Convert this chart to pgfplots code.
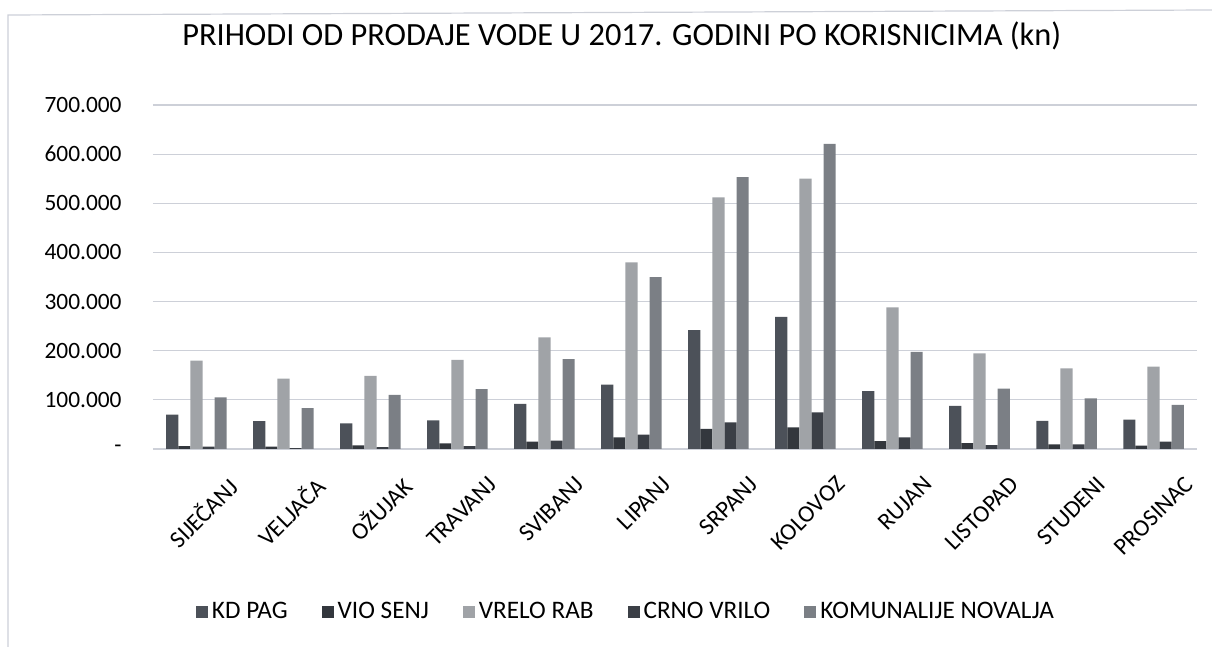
\documentclass[border=0pt]{standalone}
\usepackage{pgfplots}
\pgfplotsset{compat=1.18}
\usepackage{fontspec}
\setmainfont{Carlito}
\definecolor{cKD}{HTML}{4C5159}
\definecolor{cVIO}{HTML}{33373D}
\definecolor{cVRELO}{HTML}{A0A3A7}
\definecolor{cCRNO}{HTML}{3B3F46}
\definecolor{cKOM}{HTML}{7B7F85}
\definecolor{cgrid}{HTML}{CDD0D8}
\begin{document}
\begin{tikzpicture}
\begin{axis}[
  at={(0,0)}, anchor=south west,
  scale only axis,
  width=522pt, height=172pt,
  ybar=0pt, bar width=6.05pt,
  xmin=-0.5, xmax=11.5, ymin=0, ymax=700000,
  enlargelimits=false,
  scaled y ticks=false,
  axis line style={draw=none},
  major tick length=0pt,
  ymajorgrids, grid style={cgrid, line width=0.6pt},
  ytick={0,100000,200000,300000,400000,500000,600000,700000},
  yticklabels={-\hspace{5pt},100.000,200.000,300.000,400.000,500.000,600.000,700.000},
  yticklabel style={anchor=east, inner sep=0pt, xshift=-15.5pt, font=\fontsize{11.7}{14}\selectfont},
  xtick={0,...,11},
  xticklabels={SIJEČANJ,VELJAČA,OŽUJAK,TRAVANJ,SVIBANJ,LIPANJ,SRPANJ,KOLOVOZ,RUJAN,LISTOPAD,STUDENI,PROSINAC},
  xticklabel style={rotate=45, anchor=north east, inner sep=0pt, yshift=-19.5pt, xshift=1.5pt, font=\fontsize{12}{14}\selectfont},
  title={PRIHODI OD PRODAJE VODE U 2017. GODINI PO KORISNICIMA (kn)},
  title style={at={(axis description cs:0.449,1.166)}, anchor=center, font=\fontsize{16.2}{19}\selectfont, inner sep=0pt},
  legend columns=-1,
  legend style={at={(axis description cs:0.454,-0.474)}, anchor=center, draw=none, fill=none,
    font=\fontsize{12.6}{15}\selectfont,
    /tikz/every even column/.append style={column sep=15pt}},
  legend image code/.code={\fill[#1] (0pt,-3pt) rectangle (6pt,3pt);},
]
\addplot[fill=cKD, draw=none] coordinates {(0,70000) (1,56500) (2,52000) (3,58500) (4,91600) (5,131000) (6,242000) (7,269000) (8,118000) (9,87500) (10,57000) (11,59700)};
\addplot[fill=cVIO, draw=none] coordinates {(0,6000) (1,5000) (2,7500) (3,11600) (4,15000) (5,23700) (6,40700) (7,44000) (8,16000) (9,12000) (10,9500) (11,6700)};
\addplot[fill=cVRELO, draw=none] coordinates {(0,180000) (1,143000) (2,149000) (3,181600) (4,227000) (5,380000) (6,512000) (7,550000) (8,288000) (9,194700) (10,164000) (11,167600)};
\addplot[fill=cCRNO, draw=none] coordinates {(0,5000) (1,2000) (2,4000) (3,6000) (4,17000) (5,29000) (6,54000) (7,74500) (8,23600) (9,8000) (10,9500) (11,15000)};
\addplot[fill=cKOM, draw=none] coordinates {(0,105000) (1,83000) (2,110000) (3,122000) (4,183000) (5,349500) (6,553000) (7,621000) (8,197500) (9,123000) (10,103000) (11,89600)};
\legend{KD PAG,VIO SENJ,VRELO RAB,CRNO VRILO,KOMUNALIJE NOVALJA}
\end{axis}
\draw[color=cgrid, line width=0.6pt] (-72.5pt,-99pt) -- (-72.5pt,217pt) -- (529.5pt,219.5pt);
\pgfresetboundingbox
\path[use as bounding box] (-76.5pt,-99pt) rectangle (529.5pt,224.5pt);
\end{tikzpicture}
\end{document}
